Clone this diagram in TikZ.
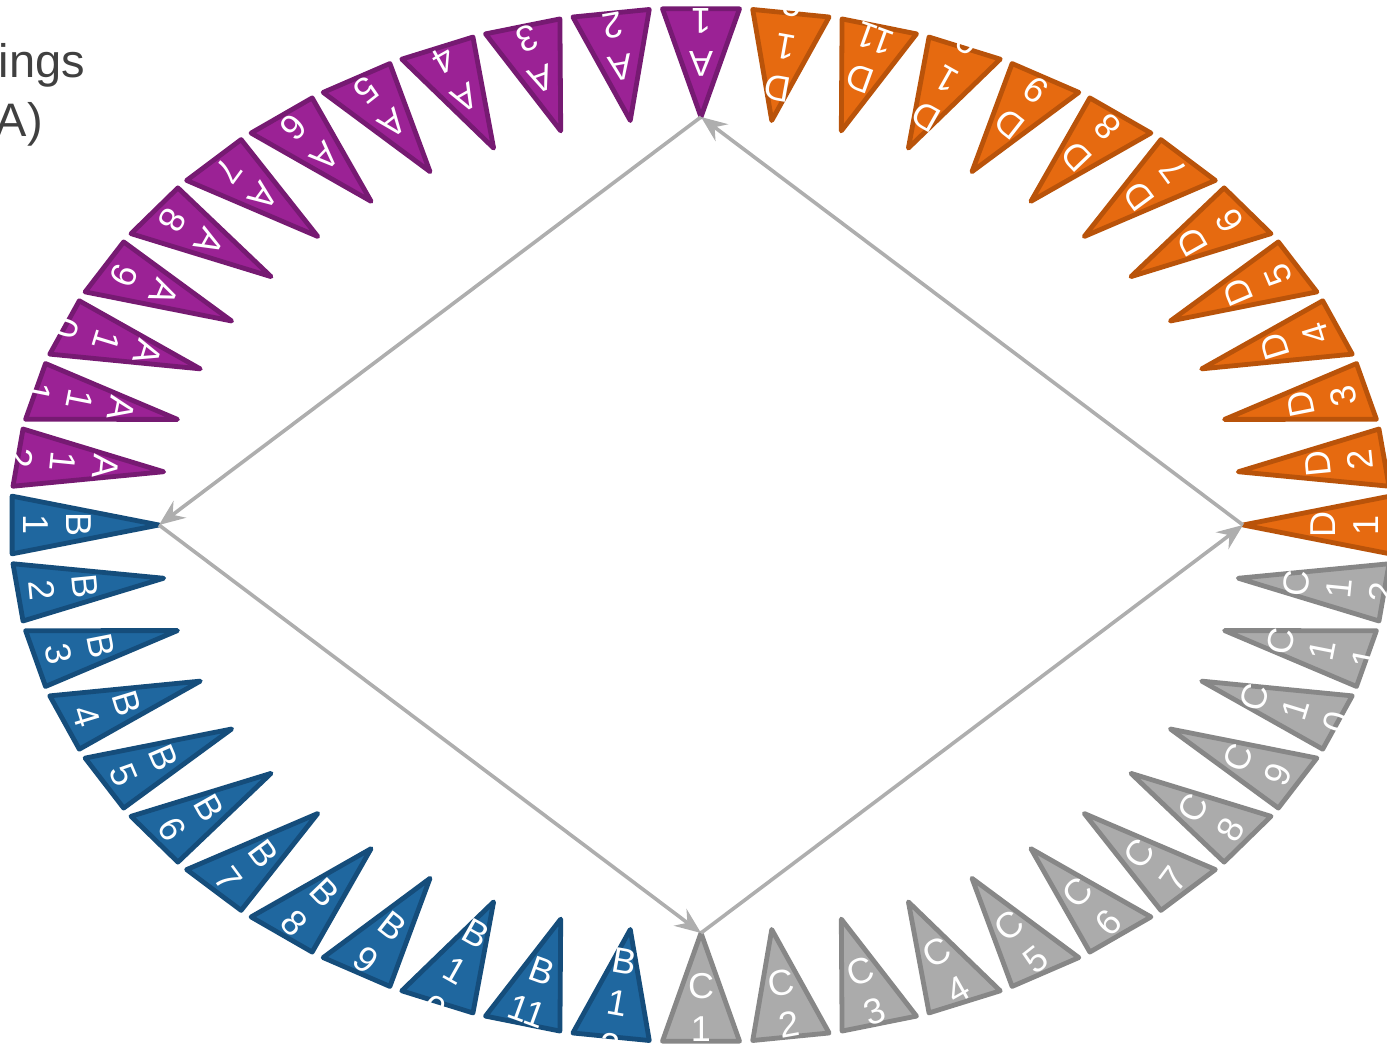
\documentclass[tikz,border=0pt]{standalone}
\usepackage{fontspec}
\setmainfont{Liberation Sans}
\usetikzlibrary{arrows.meta}
\definecolor{pfill}{HTML}{9B2295}
\definecolor{pdraw}{HTML}{761A72}
\definecolor{bfill}{HTML}{1F679F}
\definecolor{bdraw}{HTML}{154D7B}
\definecolor{cfill}{HTML}{ABABAB}
\definecolor{cdraw}{HTML}{878787}
\definecolor{dfill}{HTML}{E66A10}
\definecolor{ddraw}{HTML}{B9530A}
\definecolor{arrowgray}{HTML}{AEAEAE}
\definecolor{titlegray}{HTML}{404040}
\pgfdeclarelayer{labels}
\pgfsetlayers{main,labels}
\tikzset{
  flag/.style={line width=4.8pt, line join=round},
  flaglabel/.style={text=white, font=\fontsize{36}{43}\selectfont, align=center, inner sep=0pt},
  link/.style={draw=arrowgray, line width=3.6pt, -{Stealth[length=26pt,width=21pt,inset=9pt]}},
  titletext/.style={text=titlegray, font=\fontsize{47}{59}\selectfont, inner sep=0pt, anchor=base east}
}
\begin{document}
\begin{tikzpicture}[x=1pt,y=1pt]
\useasboundingbox (0,0) rectangle (1387,1047);
\def\cx{701}\def\cy{522}
\def\rix{542}\def\riy{408}
\def\rox{690}\def\roy{517}
\def\dl{3.2}
\foreach \gl/\start/\fc/\dc/\el in {A/90/pfill/pdraw/{1\\1}, B/180/bfill/bdraw/{11}, C/270/cfill/cdraw/{1\\1}, D/0/dfill/ddraw/{11}}{
  \foreach \k in {1,...,12}{
    \pgfmathsetmacro{\ang}{\start+7.5*(\k-1)}
    \pgfmathsetmacro{\ax}{\cx+\rix*cos(\ang)}
    \pgfmathsetmacro{\ay}{\cy+\riy*sin(\ang)}
    \pgfmathsetmacro{\blx}{\cx+\rox*cos(\ang-\dl)}
    \pgfmathsetmacro{\bly}{\cy+\roy*sin(\ang-\dl)}
    \pgfmathsetmacro{\brx}{\cx+\rox*cos(\ang+\dl)}
    \pgfmathsetmacro{\bry}{\cy+\roy*sin(\ang+\dl)}
    \pgfmathsetmacro{\mx}{(\blx+\brx)/2}
    \pgfmathsetmacro{\my}{(\bly+\bry)/2}
    \pgfmathsetmacro{\tx}{\ax+0.69*(\mx-\ax)}
    \pgfmathsetmacro{\ty}{\ay+0.69*(\my-\ay)}
    \pgfmathsetmacro{\rot}{atan2(\ay-\my,\ax-\mx)-90}
    \coordinate (\gl\k) at (\ax,\ay);
    \coordinate (\gl\k-L) at (\blx,\bly);
    \coordinate (\gl\k-R) at (\brx,\bry);
    \filldraw[flag, fill=\fc, draw=\dc] (\gl\k) -- (\gl\k-L) -- (\gl\k-R) -- cycle;
    \ifnum\k<10 \def\lab{\gl\\\k}\fi
    \ifnum\k=10 \def\lab{\gl\\1\\0}\fi
    \ifnum\k=11 \def\lab{\gl\\\el}\fi
    \ifnum\k=12 \def\lab{\gl\\1\\2}\fi
    \begin{pgfonlayer}{labels}
      \node[flaglabel, rotate=\rot] (\gl\k-T) at (\tx,\ty) {\lab};
    \end{pgfonlayer}
  }
}
\draw[link] (A1) -- (B1);
\draw[link] (B1) -- (C1);
\draw[link] (C1) -- (D1);
\draw[link] (D1) -- (A1);
\node[titletext] (title1) at (85,969) {ings};
\node[titletext] (title2) at (43,910) {A)};
\end{tikzpicture}
\end{document}
